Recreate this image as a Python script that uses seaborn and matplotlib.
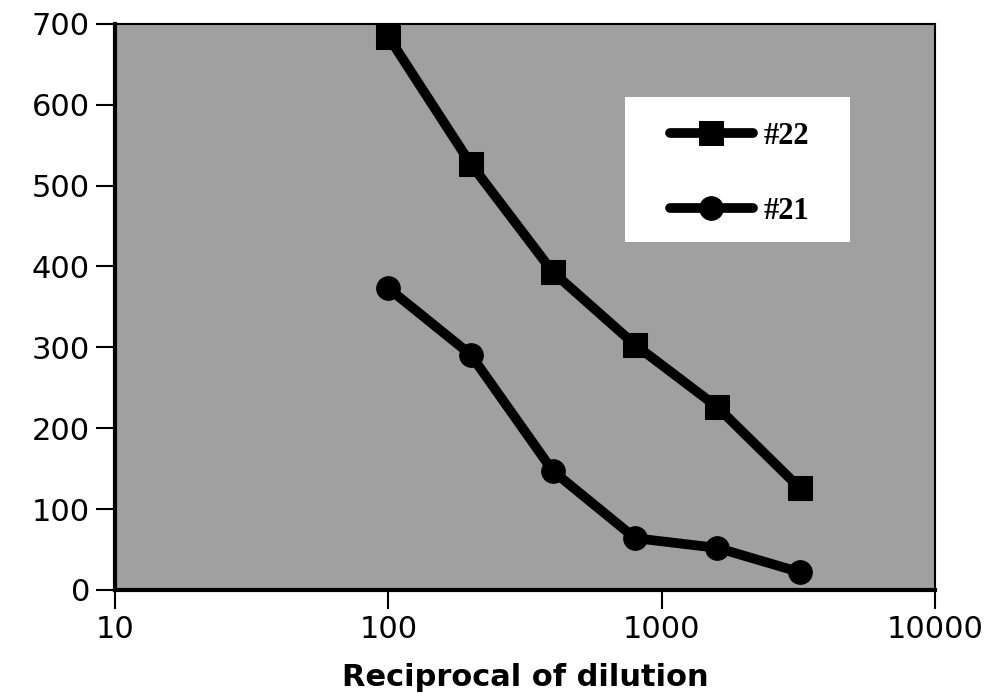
import numpy as np
import pandas as pd
import matplotlib
matplotlib.use("Agg")
import matplotlib.pyplot as plt
import seaborn as sns
from matplotlib.patches import Rectangle

# ---------- Data ----------
dilution = [100, 200, 400, 800, 1600, 3200]
sample_22 = [684, 527, 393, 303, 226, 126]
sample_21 = [373, 291, 147, 64, 52, 22]

df = pd.concat([
    pd.DataFrame({"dilution": dilution, "value": sample_22, "sample": "#22"}),
    pd.DataFrame({"dilution": dilution, "value": sample_21, "sample": "#21"}),
])

# ---------- Plot ----------
sns.set_style("ticks")
fig = plt.figure(figsize=(10, 6.99), dpi=100)
ax = fig.add_axes([0.115, 0.156, 0.82, 0.81])
ax.set_facecolor("#a0a0a0")

sns.lineplot(data=df, x="dilution", y="value", hue="sample", style="sample",
             palette={"#22": "black", "#21": "black"},
             markers={"#22": "s", "#21": "o"}, dashes=False,
             linewidth=7, markersize=17, markeredgecolor="black", ax=ax)

ax.set_xscale("log")
ax.set_xlim(10, 10000)
ax.set_ylim(0, 700)
ax.set_yticks(range(0, 701, 100))
ax.set_xticks([10, 100, 1000, 10000])
ax.set_xticklabels(["10", "100", "1000", "10000"])
ax.xaxis.set_minor_locator(matplotlib.ticker.NullLocator())

ax.set_xlabel("Reciprocal of dilution", fontsize=22, fontweight="bold",
              labelpad=14, color="black")
ax.set_ylabel("")
ax.tick_params(axis="both", labelsize=22, length=14, width=1.5,
               direction="out", pad=4, colors="black")

for side in ["left", "bottom"]:
    ax.spines[side].set_linewidth(3)
for side in ["top", "right"]:
    ax.spines[side].set_linewidth(1.5)
for sp in ax.spines.values():
    sp.set_color("black")

# white legend box
ax.add_patch(Rectangle((0.622, 0.615), 0.274, 0.256, transform=ax.transAxes,
                       facecolor="white", edgecolor="none", zorder=3))
leg = ax.legend(loc="upper left", bbox_to_anchor=(0.677, 0.827),
                frameon=False, handlelength=2.7, handletextpad=0.35,
                labelspacing=1.5, borderpad=0, borderaxespad=0,
                prop={"family": "Liberation Serif", "weight": "bold", "size": 22})
leg.set_zorder(4)
for t in leg.get_texts():
    t.set_color("black")

fig.savefig("out.png", dpi=100)
